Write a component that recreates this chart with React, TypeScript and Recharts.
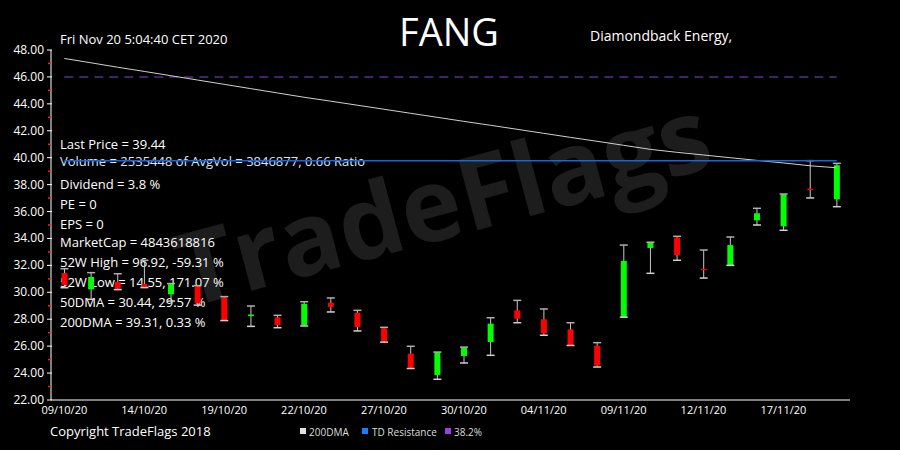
import { ComposedChart, Bar, Line, XAxis, YAxis } from "recharts";

const dates = [
  "09/10/20", "12/10/20", "13/10/20", "14/10/20", "15/10/20", "16/10/20",
  "19/10/20", "20/10/20", "21/10/20", "22/10/20", "23/10/20", "26/10/20",
  "27/10/20", "28/10/20", "29/10/20", "30/10/20", "02/11/20", "03/11/20",
  "04/11/20", "05/11/20", "06/11/20", "09/11/20", "10/11/20", "11/11/20",
  "12/11/20", "13/11/20", "16/11/20", "17/11/20", "18/11/20", "19/11/20",
];

const opens = [
  31.43, 30.22, 30.77, 30.62, 29.85, 30.45, 29.63, 28.28, 28.14, 27.57,
  29.23, 28.48, 27.33, 25.44, 23.86, 25.27, 26.31, 28.66, 28.0, 27.25,
  26.03, 28.17, 33.29, 34.06, 31.75, 32.01, 35.35, 34.9, 37.7, 36.91,
];
const highs = [
  31.75, 31.46, 31.38, 32.38, 30.65, 30.5, 29.68, 28.98, 28.29, 29.3,
  29.58, 28.66, 27.4, 25.99, 25.56, 25.93, 28.11, 29.4, 28.76, 27.74,
  26.26, 33.51, 33.72, 34.16, 33.14, 34.11, 36.24, 37.3, 39.78, 39.58,
];
const lows = [
  30.34, 29.48, 30.2, 30.35, 29.35, 29.05, 27.9, 27.47, 27.37, 27.5,
  28.54, 27.13, 26.3, 24.34, 23.54, 24.75, 25.32, 27.74, 26.81, 26.05,
  24.45, 28.15, 31.41, 32.38, 31.06, 32.0, 35.0, 34.61, 37.01, 36.36,
];
const closes = [
  30.54, 31.14, 30.27, 30.39, 30.6, 29.18, 27.92, 28.35, 27.57, 29.15,
  28.91, 27.42, 26.36, 24.4, 25.54, 25.89, 27.67, 28.04, 26.95, 26.08,
  24.55, 32.33, 33.68, 32.77, 31.65, 33.51, 35.87, 37.28, 37.6, 39.44,
];
const dma200 = [
  47.37, 47.05, 46.72, 46.41, 46.09, 45.77, 45.45, 45.13, 44.81, 44.49,
  44.2, 43.9, 43.6, 43.3, 43.0, 42.7, 42.41, 42.11, 41.81, 41.51,
  41.22, 40.92, 40.62, 40.4, 40.2, 40.0, 39.8, 39.61, 39.4, 39.25,
];
const tdResistance = 39.78;
const fib382 = 46.0;

const xTicks = ["09/10/20", "14/10/20", "19/10/20", "22/10/20", "27/10/20", "30/10/20", "04/11/20", "09/11/20", "12/11/20", "17/11/20"];
const yTicks = Array.from({ length: 27 }, (_, i) => 22 + i);

const infoLines = [
  "Last Price = 39.44",
  "Volume = 2535448 of AvgVol = 3846877, 0.66 Ratio",
  "Dividend = 3.8 %",
  "PE = 0",
  "EPS = 0",
  "MarketCap = 4843618816",
  "52W High = 96.92, -59.31 %",
  "52W Low = 14.55, 171.07 %",
  "50DMA = 30.44, 29.57 %",
  "200DMA = 39.31, 0.33 %",
];
const infoBase = [149, 166, 189, 209, 229, 247, 267, 287, 307, 327];

const rows = dates.map((d, i) => ({
  date: d,
  open: opens[i],
  high: highs[i],
  low: lows[i],
  close: closes[i],
  range: [lows[i], highs[i]],
  dma: dma200[i],
  td: tdResistance,
  fib: fib382,
}));

const FONT = "'Open Sans', sans-serif";

const Candle = (props: any) => {
  const { x, y, width, height, payload } = props;
  const { open, high, low, close } = payload;
  const top = Math.min(y, y + height);
  const h = Math.abs(height);
  const ppu = h / (high - low);
  const yOf = (v: number) => top + (high - v) * ppu;
  const cx = x + width / 2;
  const up = close >= open;
  const bTop = yOf(Math.max(open, close));
  const bBot = yOf(Math.min(open, close));
  return (
    <g>
      <line x1={cx} x2={cx} y1={yOf(high)} y2={yOf(low)} stroke="#c8c8c8" strokeWidth={1} />
      <rect x={cx - 3} y={bTop} width={6} height={Math.max(bBot - bTop, 1.5)} fill={up ? "#00ff00" : "#ff0000"} />
      <line x1={cx - 4} x2={cx + 4} y1={yOf(high)} y2={yOf(high)} stroke="#b0b0b0" strokeWidth={1.5} />
      <line x1={cx - 4} x2={cx + 4} y1={yOf(low)} y2={yOf(low)} stroke="#d0d0d0" strokeWidth={1.5} />
    </g>
  );
};

const YTick = (props: any) => {
  const { x, y, payload } = props;
  const v = payload.value;
  const axisX = x + 8;
  if (v % 2 === 1) {
    return <line x1={axisX - 3} x2={axisX} y1={y} y2={y} stroke="#ff2020" strokeWidth={1.5} />;
  }
  return (
    <g>
      <line x1={axisX - 4} x2={axisX + 1} y1={y} y2={y} stroke="#ffffff" strokeWidth={1} />
      <text x={x + 1} y={y + 4} textAnchor="end" fill="#ffffff" fontSize={12} fontFamily={FONT}>
        {v.toFixed(2)}
      </text>
    </g>
  );
};

export default function App() {
  return (
    <div style={{ position: "absolute", left: 0, top: 0, width: 900, height: 450, background: "#000", overflow: "hidden" }}>
      <svg width={900} height={450} style={{ position: "absolute", left: 0, top: 0 }}>
        <text x={445} y={238} textAnchor="middle" fill="#1d1d1d" fontSize={102} fontWeight={700} fontFamily={FONT} transform="rotate(-15 445 212)">
          TradeFlags
        </text>
        <text x={60} y={44} fill="#fff" fontSize={13} fontFamily={FONT}>Fri Nov 20 5:04:40 CET 2020</text>
        <text x={449} y={46} textAnchor="middle" fill="#fff" fontSize={38} fontFamily={FONT}>FANG</text>
        <text x={590} y={41} fill="#fff" fontSize={14} fontFamily={FONT}>Diamondback Energy,</text>
        {infoLines.map((t, i) => (
          <text key={t} x={60} y={infoBase[i]} fill={i === 1 ? "#d8e6ff" : "#ffffff"} fontSize={13} fontFamily={FONT}>
            {t}
          </text>
        ))}
        <text x={50} y={436} fill="#fff" fontSize={13} fontFamily={FONT}>Copyright TradeFlags 2018</text>
        <rect x={300} y={428} width={6} height={6} fill="#e0e0e0" />
        <text x={309} y={436} fill="#ddd" fontSize={10} fontFamily={FONT}>200DMA</text>
        <rect x={362} y={428} width={6} height={6} fill="#1a7fff" />
        <text x={372} y={436} fill="#ddd" fontSize={10} fontFamily={FONT}>TD Resistance</text>
        <rect x={445} y={428} width={6} height={6} fill="#9a40e0" />
        <text x={454} y={436} fill="#ddd" fontSize={10} fontFamily={FONT}>38.2%</text>
      </svg>
      <div style={{ position: "absolute", left: 0, top: 0 }}>
        <ComposedChart width={900} height={450} data={rows} margin={{ top: 50, right: 50, bottom: 30, left: 0 }}>
          <XAxis
            dataKey="date"
            ticks={xTicks}
            interval={0}
            height={20}
            axisLine={{ stroke: "#ffffff" }}
            tickLine={false}
            tickMargin={0}
            tick={{ fill: "#ffffff", fontSize: 11, fontFamily: FONT }}
          />
          <YAxis
            type="number"
            domain={[22, 48]}
            ticks={yTicks}
            interval={0}
            width={51}
            allowDataOverflow
            axisLine={{ stroke: "#ffffff" }}
            tickLine={false}
            tick={<YTick />}
          />
          <Line dataKey="fib" stroke="#5a2d8f" strokeWidth={1.5} strokeDasharray="9 6" dot={false} isAnimationActive={false} />
          <Line dataKey="dma" stroke="#d0d0d0" strokeWidth={1} dot={false} isAnimationActive={false} />
          <Bar dataKey="range" shape={<Candle />} barSize={7} isAnimationActive={false} />
          <Line dataKey="td" stroke="#1565e0" strokeWidth={1.5} dot={false} isAnimationActive={false} />
        </ComposedChart>
      </div>
    </div>
  );
}
